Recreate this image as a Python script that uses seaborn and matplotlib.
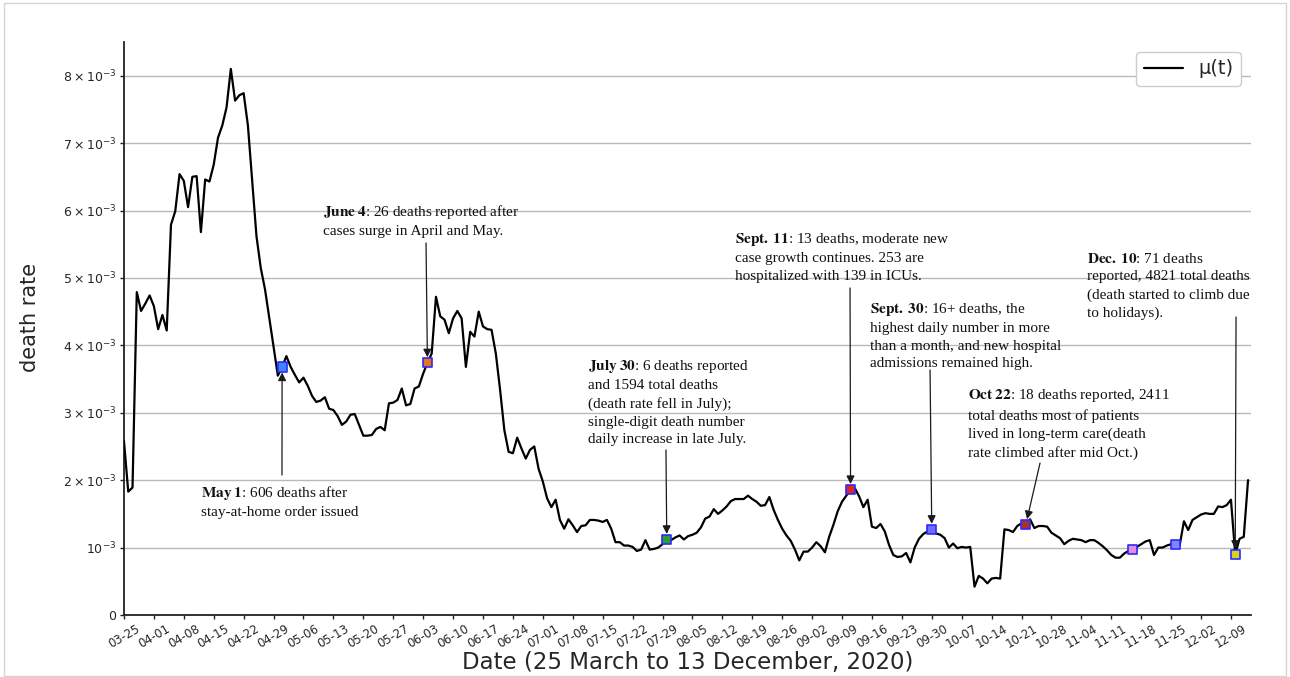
import numpy as np
import pandas as pd
import matplotlib
matplotlib.use("Agg")
import matplotlib.pyplot as plt
import matplotlib.dates as mdates
from matplotlib.patches import Rectangle
import seaborn as sns

# Daily death rate mu(t), 25 March - 13 December 2020, in units of 1e-3
start_date = "2020-03-25"
death_rate_milli = [
    2.58, 1.83, 1.89, 4.79, 4.51, 4.62, 4.74, 4.58, 4.24, 4.45,
    4.22, 5.79, 5.99, 6.54, 6.44, 6.05, 6.50, 6.51, 5.68, 6.46,
    6.43, 6.68, 7.08, 7.26, 7.53, 8.10, 7.63, 7.71, 7.74, 7.26,
    6.45, 5.62, 5.15, 4.83, 4.41, 3.98, 3.55, 3.68, 3.84, 3.68,
    3.56, 3.45, 3.52, 3.40, 3.25, 3.16, 3.18, 3.23, 3.06, 3.04,
    2.95, 2.82, 2.87, 2.97, 2.98, 2.82, 2.66, 2.66, 2.67, 2.76,
    2.79, 2.74, 3.14, 3.15, 3.19, 3.36, 3.11, 3.13, 3.36, 3.39,
    3.58, 3.74, 3.88, 4.72, 4.43, 4.38, 4.18, 4.40, 4.51, 4.40,
    3.68, 4.20, 4.13, 4.50, 4.28, 4.24, 4.23, 3.88, 3.34, 2.74,
    2.42, 2.40, 2.63, 2.47, 2.32, 2.45, 2.50, 2.17, 1.98, 1.73,
    1.60, 1.71, 1.41, 1.28, 1.42, 1.33, 1.23, 1.32, 1.33, 1.41,
    1.41, 1.40, 1.38, 1.41, 1.28, 1.08, 1.08, 1.03, 1.03, 1.01,
    0.95, 0.97, 1.11, 0.97, 0.98, 1.00, 1.05, 1.12, 1.11, 1.15,
    1.18, 1.12, 1.17, 1.19, 1.22, 1.30, 1.43, 1.46, 1.57, 1.50,
    1.55, 1.61, 1.69, 1.72, 1.72, 1.72, 1.77, 1.72, 1.68, 1.62,
    1.63, 1.75, 1.56, 1.41, 1.28, 1.18, 1.10, 0.97, 0.81, 0.94,
    0.94, 1.00, 1.08, 1.02, 0.93, 1.16, 1.34, 1.54, 1.68, 1.77,
    1.86, 1.88, 1.76, 1.60, 1.71, 1.31, 1.29, 1.35, 1.24, 1.04,
    0.89, 0.86, 0.87, 0.92, 0.78, 1.00, 1.13, 1.20, 1.24, 1.27,
    1.21, 1.19, 1.14, 1.00, 1.06, 0.99, 1.01, 1.00, 1.01, 0.42,
    0.58, 0.54, 0.47, 0.54, 0.55, 0.54, 1.27, 1.26, 1.23, 1.32,
    1.36, 1.34, 1.42, 1.29, 1.32, 1.32, 1.31, 1.22, 1.18, 1.14,
    1.05, 1.10, 1.13, 1.12, 1.11, 1.08, 1.11, 1.11, 1.07, 1.02,
    0.96, 0.89, 0.85, 0.85, 0.91, 0.95, 0.97, 1.01, 1.05, 1.09,
    1.11, 0.89, 1.00, 1.00, 1.03, 1.05, 1.04, 1.03, 1.39, 1.26,
    1.41, 1.45, 1.49, 1.51, 1.50, 1.50, 1.61, 1.60, 1.63, 1.71,
    0.90, 1.13, 1.16, 2.00,
]

tick_labels = [
    "03-25", "04-01", "04-08", "04-15", "04-22", "04-29", "05-06", "05-13",
    "05-20", "05-27", "06-03", "06-10", "06-17", "06-24", "07-01", "07-08",
    "07-15", "07-22", "07-29", "08-05", "08-12", "08-19", "08-26", "09-02",
    "09-09", "09-16", "09-23", "09-30", "10-07", "10-14", "10-21", "10-28",
    "11-04", "11-11", "11-18", "11-25", "12-02", "12-09",
]

ytick_values = [0, 1e-3, 2e-3, 3e-3, 4e-3, 5e-3, 6e-3, 7e-3, 8e-3]
ytick_labels = ["0", r"$10^{-3}$", r"$2\times10^{-3}$", r"$3\times10^{-3}$",
                r"$4\times10^{-3}$", r"$5\times10^{-3}$", r"$6\times10^{-3}$",
                r"$7\times10^{-3}$", r"$8\times10^{-3}$"]

# Highlighted days on the curve and their square colours
marker_days = ["05-01", "06-04", "07-30", "09-11", "09-30", "10-22",
               "11-16", "11-26", "12-10"]
marker_faces = ["#3d86ff", "#e8751a", "#2ca02c", "#e02424", "#6f6cff",
                "#a8322e", "#e58be0", "#7f86ff", "#d6d31e"]

# Event notes
event_days = ["05-01", "06-04", "07-30", "09-11", "09-30", "10-22", "12-10"]
event_titles = ["May 1", "June 4", "July 30", "Sept. 11", "Sept. 30",
                "Oct 22", "Dec. 10"]
event_notes = [
    ": 606 deaths after\nstay-at-home order issued",
    ": 26 deaths reported after\ncases surge in April and May.",
    ": 6 deaths reported\nand 1594 total deaths\n(death rate fell in July);\n"
    "single-digit death number\ndaily increase in late July.",
    ": 13 deaths, moderate new\ncase growth continues. 253 are\n"
    "hospitalized with 139 in ICUs.",
    ": 16+ deaths, the\nhighest daily number in more\n"
    "than a month, and new hospital\nadmissions remained high.",
    ": 18 deaths reported, 2411\ntotal deaths most of patients\n"
    "lived in long-term care(death\nrate climbed after mid Oct.)",
    ": 71 deaths\nreported, 4821 total deaths\n(death started to climb due\n"
    "to holidays).",
]
# note anchor (top-left) and arrow tail, in axes fractions
note_xy = [(0.0683, 0.2290), (0.1766, 0.7190), (0.4117, 0.4485),
           (0.5421, 0.6702), (0.6619, 0.5480), (0.7489, 0.3979),
           (0.8545, 0.6335)]
arrow_tail_xy = [(0.1402, 0.2443), (0.2680, 0.6492), (0.4809, 0.2880),
                 (0.6442, 0.5707), (0.7152, 0.4276), (0.8128, 0.2653),
                 (0.9867, 0.5201)]

dates = pd.date_range(start_date, periods=len(death_rate_milli), freq="D")
df = pd.DataFrame({"date": dates,
                   "mu": np.array(death_rate_milli) * 1e-3})
series = df.set_index("date")["mu"]

sns.set_style("ticks")
plt.rcParams["font.family"] = ["DejaVu Sans"]

fig = plt.figure(figsize=(12.9, 6.77), dpi=100)
ax = fig.add_axes([0.0961, 0.0916, 0.8737, 0.8464])

sns.lineplot(data=df, x="date", y="mu", color="black", linewidth=1.6,
             label="\u03bc(t)", ax=ax, zorder=3)

# highlighted squares
mk_dates = [pd.Timestamp(f"2020-{d}") for d in marker_days]
ax.scatter(mdates.date2num(mk_dates), series.loc[mk_dates].values,
           marker="s", s=44, facecolors=marker_faces, edgecolors="#2b2bff",
           linewidths=1.2, zorder=4)

# annotations
for day, title, note, txy, axy in zip(event_days, event_titles, event_notes,
                                      note_xy, arrow_tail_xy):
    d = pd.Timestamp(f"2020-{day}")
    ax.annotate("", xy=(mdates.date2num(d), series.loc[d]), xycoords="data",
                xytext=axy, textcoords="axes fraction",
                arrowprops=dict(arrowstyle="-|>", color="#1a1a1a", lw=0.9,
                                mutation_scale=12, shrinkA=0, shrinkB=4),
                zorder=5)
    label = r"$\mathbf{" + title.replace(" ", r"\;") + "}$" + note
    ax.text(txy[0], txy[1], label, transform=ax.transAxes, ha="left",
            va="top", fontsize=11, family="Liberation Serif",
            math_fontfamily="stix", linespacing=1.45, color="#111111",
            zorder=6)

# axes styling
x0 = mdates.date2num(pd.Timestamp(start_date))
ax.set_xlim(x0, x0 + 263.7)
ax.set_ylim(0, 8.5e-3)
ax.set_yticks(ytick_values)
ax.set_yticklabels(ytick_labels, fontsize=9)
tick_dates = [pd.Timestamp(f"2020-{t}") for t in tick_labels]
ax.set_xticks(mdates.date2num(tick_dates))
ax.set_xticklabels(tick_labels, rotation=30, fontsize=8.5)
ax.yaxis.grid(True, color="#b9b9b9", linewidth=1.0)
ax.xaxis.grid(False)
ax.set_axisbelow(True)
sns.despine(ax=ax)
for side in ("left", "bottom"):
    ax.spines[side].set_linewidth(1.3)
    ax.spines[side].set_color("#222222")
ax.tick_params(axis="both", length=3, width=1.0, pad=2.5, color="#222222")

ax.set_ylabel("death rate", fontsize=15)
ax.set_xlabel("Date (25 March to 13 December, 2020)", fontsize=16.5)
ax.yaxis.set_label_coords(-0.0745, 0.52)
ax.xaxis.set_label_coords(0.5, -0.0630)

leg = ax.legend(loc="upper right", fontsize=14, frameon=True, fancybox=True,
                edgecolor="#cccccc", framealpha=1.0)

fig.add_artist(Rectangle((0.003, 0.002), 0.994, 0.994,
                         transform=fig.transFigure, fill=False,
                         edgecolor="#d4d4d4", linewidth=1.0))

fig.savefig("out.png", dpi=100)
